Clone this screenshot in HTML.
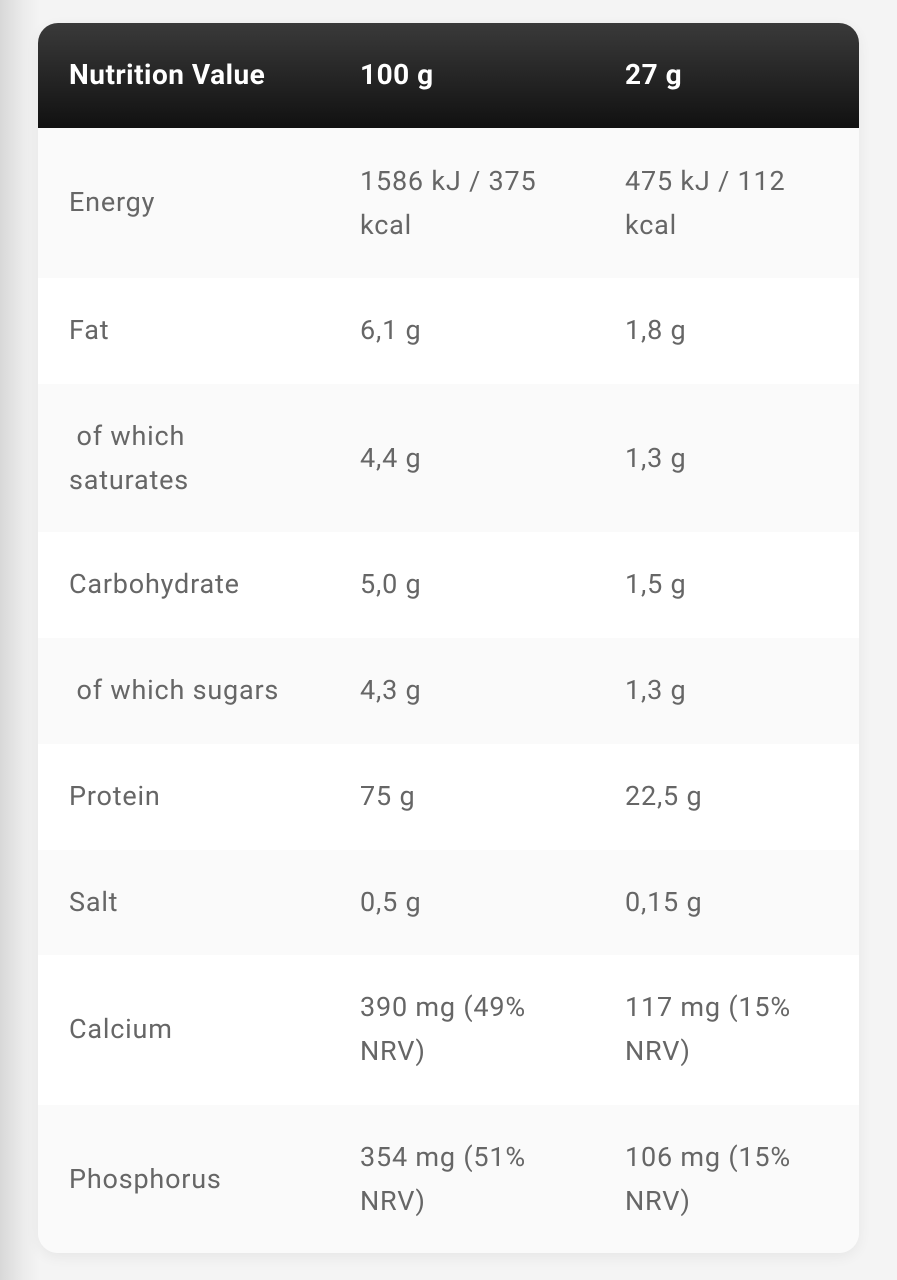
<!DOCTYPE html>
<html><head><meta charset="utf-8"><style>
html,body{margin:0;padding:0;width:897px;height:1280px;overflow:hidden;background:#f4f4f4;font-family:"Roboto","Liberation Sans",sans-serif;}
.edge{position:absolute;left:0;top:0;width:40px;height:1280px;background:linear-gradient(90deg,#d8d8d8,#ececec 60%,#f4f4f4);}
.card{position:absolute;left:38px;top:23px;width:821px;height:1230px;border-radius:20px;overflow:hidden;background:#fafafa;box-shadow:0 4px 14px rgba(0,0,0,0.06);}
.row{position:absolute;left:0;width:821px;color:#666;font-size:27px;line-height:44px;letter-spacing:0.8px;}
.row div{position:absolute;white-space:nowrap;}
.hd{top:0;height:105px;background:linear-gradient(#3a3a3a,#111);color:#fff;font-weight:bold;font-size:28px;letter-spacing:0.5px;}
.w{background:#fff}.g{background:#fafafa}
</style></head><body>
<div class="edge"></div>
<div class="card">
<div class="row hd"><div style="left:31px;top:30px">Nutrition Value</div><div style="left:322px;top:30px">100 g</div><div style="left:587px;top:30px">27 g</div></div>
<div class="row g" style="top:105px;height:150px"><div style="left:31px;top:52px">Energy</div><div style="left:322px;top:31px">1586 kJ / 375<br>kcal</div><div style="left:587px;top:31px">475 kJ / 112<br>kcal</div></div>
<div class="row w" style="top:255px;height:106px"><div style="left:31px;top:30px">Fat</div><div style="left:322px;top:30px">6,1 g</div><div style="left:587px;top:30px">1,8 g</div></div>
<div class="row g" style="top:361px;height:148px"><div style="left:31px;top:30px">&nbsp;of which<br>saturates</div><div style="left:322px;top:52px">4,4 g</div><div style="left:587px;top:52px">1,3 g</div></div>
<div class="row w" style="top:509px;height:106px"><div style="left:31px;top:30px">Carbohydrate</div><div style="left:322px;top:30px">5,0 g</div><div style="left:587px;top:30px">1,5 g</div></div>
<div class="row g" style="top:615px;height:106px"><div style="left:31px;top:30px">&nbsp;of which sugars</div><div style="left:322px;top:30px">4,3 g</div><div style="left:587px;top:30px">1,3 g</div></div>
<div class="row w" style="top:721px;height:106px"><div style="left:31px;top:30px">Protein</div><div style="left:322px;top:30px">75 g</div><div style="left:587px;top:30px">22,5 g</div></div>
<div class="row g" style="top:827px;height:105px"><div style="left:31px;top:30px">Salt</div><div style="left:322px;top:30px">0,5 g</div><div style="left:587px;top:30px">0,15 g</div></div>
<div class="row w" style="top:932px;height:150px"><div style="left:31px;top:52px">Calcium</div><div style="left:322px;top:30px">390 mg (49%<br>NRV)</div><div style="left:587px;top:30px">117 mg (15%<br>NRV)</div></div>
<div class="row g" style="top:1082px;height:148px"><div style="left:31px;top:52px">Phosphorus</div><div style="left:322px;top:30px">354 mg (51%<br>NRV)</div><div style="left:587px;top:30px">106 mg (15%<br>NRV)</div></div>
</div>
</body></html>
